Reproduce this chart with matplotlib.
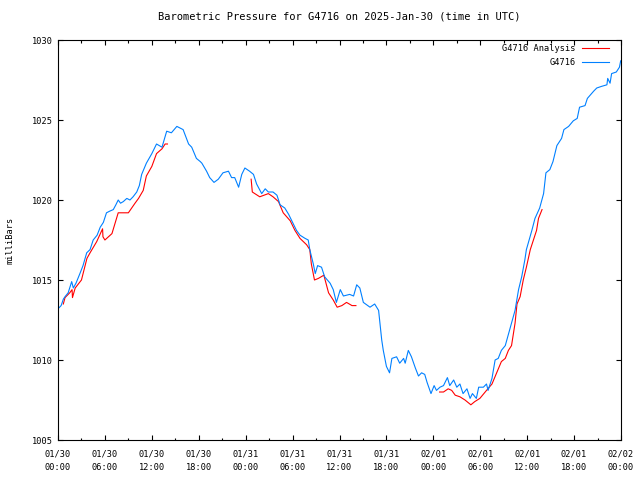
import matplotlib
matplotlib.use("Agg")
import matplotlib.pyplot as plt
from matplotlib.ticker import MultipleLocator

TITLE = "Barometric Pressure for G4716 on 2025-Jan-30 (time in UTC)"
STATION = "G4716"

# hours since 2025-01-30 00:00 UTC
obs_hours = [
    0.0, 0.4, 0.68, 0.9, 1.3, 1.75, 1.96, 2.3, 2.8, 3.2, 3.67, 4.1, 4.5, 5.0, 5.4, 5.8,
    6.2, 6.6, 7.07, 7.4, 7.7, 8.0, 8.35, 8.8, 9.2, 9.6, 10.07, 10.4, 10.7, 11.3, 12.0,
    12.6, 13.3, 13.9, 14.5, 15.2, 15.6, 16.0, 16.7, 17.1, 17.7, 18.2, 18.4, 19.0, 19.4,
    19.95, 20.5, 21.1, 21.8, 22.2, 22.6, 23.1, 23.5, 23.9, 24.5, 25.0, 25.4, 26.05,
    26.5, 26.9, 27.5, 28.0, 28.4, 29.0, 29.5, 30.1, 30.5, 30.95, 31.6, 32.0, 32.2,
    32.65, 32.9, 33.2, 33.7, 34.1, 34.8, 35.2, 35.6, 36.1, 36.5, 37.3, 37.8, 38.2,
    38.6, 39.05, 39.9, 40.5, 41.0, 41.2, 41.4, 41.6, 42.0, 42.4, 42.7, 43.3, 43.7,
    44.2, 44.4, 44.8, 45.2, 45.7, 46.1, 46.5, 46.9, 47.2, 47.7, 48.1, 48.4, 48.85,
    49.3, 49.8, 50.1, 50.6, 51.0, 51.4, 51.8, 52.3, 52.7, 53.0, 53.5, 53.8, 54.4,
    54.8, 55.0, 55.5, 55.9, 56.3, 56.7, 57.2, 57.6, 58.0, 58.45, 58.9, 59.3, 59.7,
    59.9, 60.6, 61.0, 61.6, 62.1, 62.4, 62.9, 63.3, 63.8, 64.4, 64.7, 65.3, 65.9,
    66.4, 66.7, 67.4, 67.7, 68.5, 68.9, 69.5, 70.2, 70.3, 70.6, 70.8, 71.4, 71.8, 71.96,
]
obs_mb = [
    1013.2, 1013.4, 1013.8, 1013.96, 1014.2, 1014.9, 1014.5, 1014.8, 1015.4, 1015.9,
    1016.7, 1016.9, 1017.5, 1017.8, 1018.3, 1018.6, 1019.2, 1019.3, 1019.4, 1019.7,
    1020.0, 1019.8, 1019.9, 1020.1, 1020.0, 1020.2, 1020.5, 1020.9, 1021.6, 1022.3,
    1022.9, 1023.5, 1023.3, 1024.3, 1024.2, 1024.6, 1024.5, 1024.4, 1023.5, 1023.3,
    1022.6, 1022.4, 1022.3, 1021.8, 1021.4, 1021.1, 1021.3, 1021.7, 1021.8, 1021.4,
    1021.4, 1020.8, 1021.6, 1022.0, 1021.8, 1021.6, 1021.0, 1020.4, 1020.7, 1020.5,
    1020.5, 1020.3, 1019.7, 1019.5, 1019.1, 1018.5, 1018.1, 1017.8, 1017.6, 1017.5,
    1016.9, 1016.0, 1015.4, 1015.9, 1015.8, 1015.2, 1014.8, 1014.4, 1013.6, 1014.4,
    1014.0, 1014.1, 1014.0, 1014.7, 1014.5, 1013.6, 1013.3, 1013.5, 1013.1, 1012.2,
    1011.25, 1010.6, 1009.6, 1009.2, 1010.1, 1010.2, 1009.8, 1010.1, 1009.8, 1010.6,
    1010.2, 1009.5, 1009.0, 1009.2, 1009.1, 1008.6, 1007.9, 1008.4, 1008.1, 1008.3,
    1008.4, 1008.9, 1008.4, 1008.75, 1008.3, 1008.5, 1007.9, 1008.2, 1007.6, 1007.9,
    1007.6, 1008.3, 1008.3, 1008.5, 1008.1, 1008.85, 1010.0, 1010.1, 1010.6, 1010.9,
    1011.6, 1012.3, 1013.1, 1014.4, 1015.2, 1016.25, 1016.9, 1018.1, 1018.85, 1019.5,
    1020.4, 1021.7, 1021.9, 1022.4, 1023.4, 1023.85, 1024.4, 1024.6, 1024.95, 1025.1,
    1025.8, 1025.9, 1026.35, 1026.8, 1027.0, 1027.1, 1027.2, 1027.6, 1027.3, 1027.9,
    1028.0, 1028.3, 1028.7,
]

# analysis series, None marks gaps
ana_hours = [
    0.68, 0.9, 1.5, 1.8, 1.85, 2.2, 3.0, 3.7, 4.1, 4.95, 5.7, 5.75, 6.0, 6.9, 7.7, 9.0,
    9.85, 10.3, 10.9, 11.3, 12.0, 12.6, 13.3, 13.7, 14.0,
    14.1,
    24.7, 24.85, 25.8, 26.9, 27.5, 28.2, 28.8, 29.7, 30.3, 30.95, 31.8, 32.2, 32.4,
    32.8, 33.3, 34.0, 34.6, 35.2, 35.7, 36.3, 36.9, 37.6, 38.1,
    38.2,
    48.8, 49.3, 49.9, 50.35, 50.8, 51.4, 52.05, 52.8, 53.3, 53.95, 54.8, 55.5, 56.1,
    56.7, 57.2, 57.6, 58.0, 58.45, 58.7, 59.1, 59.5, 59.9, 60.4, 61.2, 61.45, 61.9,
]
ana_mb = [
    1013.5, 1013.9, 1014.2, 1014.4, 1013.9, 1014.5, 1015.0, 1016.35, 1016.7, 1017.4,
    1018.2, 1017.7, 1017.5, 1017.9, 1019.2, 1019.2, 1019.8, 1020.1, 1020.6, 1021.5,
    1022.1, 1022.9, 1023.2, 1023.5, 1023.5,
    None,
    1021.3, 1020.5, 1020.2, 1020.4, 1020.2, 1019.9, 1019.2, 1018.7, 1018.1, 1017.6,
    1017.2, 1016.9, 1016.0, 1015.0, 1015.1, 1015.3, 1014.2, 1013.75, 1013.3, 1013.4,
    1013.6, 1013.4, 1013.4,
    None,
    1008.0, 1008.0, 1008.2, 1008.1, 1007.8, 1007.7, 1007.5, 1007.2, 1007.4, 1007.6,
    1008.1, 1008.5, 1009.2, 1009.9, 1010.1, 1010.6, 1010.9, 1012.3, 1013.5, 1013.96,
    1015.0, 1015.8, 1016.9, 1018.1, 1018.85, 1019.4,
]

tick_labels = [
    "01/30\n00:00", "01/30\n06:00", "01/30\n12:00", "01/30\n18:00",
    "01/31\n00:00", "01/31\n06:00", "01/31\n12:00", "01/31\n18:00",
    "02/01\n00:00", "02/01\n06:00", "02/01\n12:00", "02/01\n18:00",
    "02/02\n00:00",
]

plt.rcParams["font.family"] = ["DejaVu Sans Mono"]
plt.rcParams["font.size"] = 6.2

ana_clean = [float("nan") if v is None else v for v in ana_mb]

fig = plt.figure(figsize=(6.4, 4.8), dpi=100)
ax = fig.add_axes([58 / 640, 40 / 480, 563 / 640, 400 / 480])

ax.plot(ana_hours, ana_clean, color="#ff0000", lw=0.8, label=f"{STATION} Analysis")
ax.plot(obs_hours, obs_mb, color="#0080ff", lw=0.8, label=STATION)

ax.set_xlim(0, 72)
ax.set_ylim(1005, 1030)
ax.set_xticks(range(0, 73, 6))
ax.set_xticklabels(tick_labels, linespacing=1.6)
ax.xaxis.set_minor_locator(MultipleLocator(3))
ax.yaxis.set_major_locator(MultipleLocator(5))
ax.tick_params(which="both", direction="in", top=True, right=True, width=0.8, colors="black")
ax.tick_params(which="major", length=3.6, pad=4)
ax.tick_params(axis="x", which="major", pad=7)
ax.tick_params(which="minor", length=1.8)
for s in ax.spines.values():
    s.set_linewidth(0.8)

ax.set_ylabel("milliBars", labelpad=12)
ax.set_title(TITLE, pad=15)

ax.legend(loc="upper right", bbox_to_anchor=(0.979, 0.99), frameon=False,
          markerfirst=False, handlelength=3.1, handletextpad=0.8,
          labelspacing=0.6, borderpad=0, borderaxespad=0)

fig.savefig("out.png", dpi=100)
